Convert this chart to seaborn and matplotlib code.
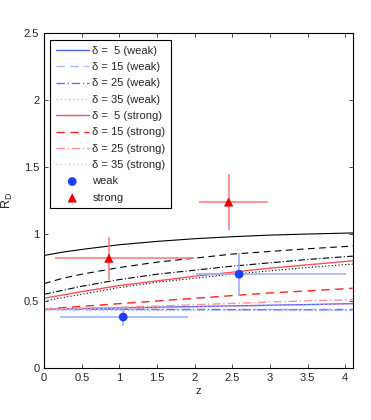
import numpy as np
import seaborn as sns
import matplotlib.pyplot as plt

# redshift grid the model curves were read at
z = [0, 0.25, 0.5, 1, 1.5, 2, 2.5, 3, 3.5, 4.1]

# model curves, black = unlabeled reference set
black_5 = [0.84, 0.865, 0.885, 0.92, 0.945, 0.965, 0.98, 0.992, 1.0, 1.008]
black_15 = [0.63, 0.67, 0.70, 0.75, 0.79, 0.82, 0.85, 0.87, 0.89, 0.91]
black_25 = [0.55, 0.58, 0.61, 0.66, 0.70, 0.73, 0.76, 0.785, 0.81, 0.835]
black_35 = [0.50, 0.525, 0.55, 0.60, 0.64, 0.67, 0.70, 0.725, 0.75, 0.776]

weak_5 = [0.44, 0.44, 0.443, 0.448, 0.453, 0.458, 0.463, 0.468, 0.473, 0.48]
weak_15 = [0.435, 0.435, 0.435, 0.435, 0.435, 0.436, 0.436, 0.437, 0.437, 0.438]
weak_25 = [0.44, 0.44, 0.439, 0.438, 0.437, 0.436, 0.435, 0.434, 0.434, 0.433]
weak_35 = [0.43, 0.43, 0.43, 0.43, 0.43, 0.43, 0.43, 0.43, 0.43, 0.43]

strong_5 = [0.52, 0.545, 0.57, 0.615, 0.65, 0.685, 0.715, 0.745, 0.77, 0.80]
strong_15 = [0.44, 0.45, 0.46, 0.48, 0.50, 0.52, 0.54, 0.56, 0.575, 0.595]
strong_25 = [0.44, 0.443, 0.447, 0.453, 0.462, 0.472, 0.482, 0.492, 0.501, 0.51]
strong_35 = [0.44, 0.44, 0.44, 0.444, 0.449, 0.454, 0.459, 0.464, 0.469, 0.476]

# measurements
weak_z = [1.05, 2.59]
weak_rd = [0.38, 0.70]
weak_zlo = [0.84, 0.57]
weak_zhi = [0.86, 1.42]
weak_rderr = [0.07, 0.16]

strong_z = [0.86, 2.45]
strong_rd = [0.82, 1.24]
strong_zlo = [0.72, 0.39]
strong_zhi = [1.13, 0.52]
strong_rdlo = [0.16, 0.21]
strong_rdhi = [0.16, 0.21]

deltas = [5, 15, 25, 35]
styles = ['-', (0, (6, 4)), (0, (6, 2, 1, 2)), (0, (1, 2))]
weak_cols = ['#4a63ff', '#a8b8ff', '#5a70ff', '#b0b8ff']
strong_cols = ['#ff5050', '#ff2020', '#ff9090', '#ffb0b0']

sns.set_style("ticks")
plt.rcParams['font.family'] = ['Liberation Sans', 'DejaVu Sans']

fig = plt.figure(figsize=(3.71, 4.2), dpi=100)
ax = fig.add_axes([0.119, 0.124, 0.832, 0.797])

for vals, ls in zip([black_5, black_15, black_25, black_35], styles):
    sns.lineplot(x=z, y=vals, ax=ax, color='black', linestyle=ls, lw=0.8, legend=False)

handles = []
labels = []
for curves, cols, tag in [([weak_5, weak_15, weak_25, weak_35], weak_cols, 'weak'),
                          ([strong_5, strong_15, strong_25, strong_35], strong_cols, 'strong')]:
    for vals, ls, c, d in zip(curves, styles, cols, deltas):
        sns.lineplot(x=z, y=vals, ax=ax, color=c, linestyle=ls, lw=1.0, legend=False)
        handles.append(ax.lines[-1])
        pad = '  ' if d < 10 else ' '
        labels.append('\u03b4 =' + pad + str(d) + ' (' + tag + ')')

ax.errorbar(weak_z, weak_rd, xerr=[weak_zlo, weak_zhi], yerr=weak_rderr,
            fmt='none', ecolor='#9fb0ff', elinewidth=1.2, capsize=0)
ax.errorbar(strong_z, strong_rd, xerr=[strong_zlo, strong_zhi],
            yerr=[strong_rdlo, strong_rdhi],
            fmt='none', ecolor='#ff8080', elinewidth=1.2, capsize=0)
sns.scatterplot(x=weak_z, y=weak_rd, ax=ax, color='#1f3fff', marker='o', s=40,
                edgecolor='none', zorder=5, legend=False)
handles.append(ax.collections[-1])
labels.append('weak')
sns.scatterplot(x=strong_z, y=strong_rd, ax=ax, color='#ee0000', marker='^', s=45,
                edgecolor='none', zorder=5, legend=False)
handles.append(ax.collections[-1])
labels.append('strong')

ax.set_xlim(0, 4.1)
ax.set_ylim(0, 2.5)
ax.set_xticks([0, 0.5, 1, 1.5, 2, 2.5, 3, 3.5, 4])
ax.set_xticklabels(['0', '0.5', '1', '1.5', '2', '2.5', '3', '3.5', '4'])
ax.set_yticks([0, 0.5, 1, 1.5, 2, 2.5])
ax.set_yticklabels(['0', '0.5', '1', '1.5', '2', '2.5'])
ax.tick_params(direction='in', top=True, right=True, labelsize=8, length=3, width=0.6)
for s in ax.spines.values():
    s.set_linewidth(0.8)
    s.set_color('black')
ax.set_xlabel('z', fontsize=8, labelpad=2)
ax.set_ylabel('R$_\\mathregular{D}$', fontsize=9)
ax.yaxis.set_label_coords(-0.095, 0.5)

leg = ax.legend(handles, labels, loc='upper left', bbox_to_anchor=(0.019, 0.979),
                borderaxespad=0, fontsize=8, frameon=True, fancybox=False,
                edgecolor='black', handlelength=3.0, handletextpad=0.3,
                labelspacing=0.57, borderpad=0.5, framealpha=1)
leg.get_frame().set_linewidth(0.8)

fig.savefig('out.png', dpi=100)
